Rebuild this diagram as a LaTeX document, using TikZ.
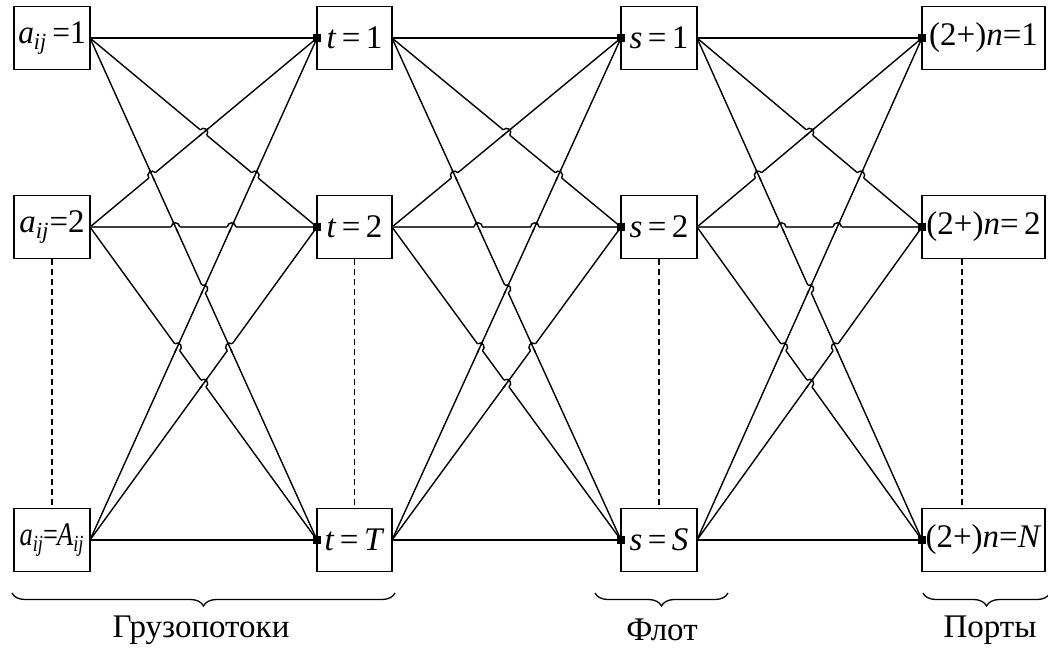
\documentclass[tikz,border=0pt]{standalone}
\usepackage{fontspec}
\setmainfont{Liberation Serif}
\usetikzlibrary{decorations.pathreplacing,calc}
\newcommand\vi[1]{\textit{#1}}
\newcommand\subij{\textsubscript{\textit{ij}}}
\begin{document}
\begin{tikzpicture}[x=0.5pt,y=0.5pt,
  box/.style={draw, line width=0.8pt, rectangle, outer sep=0pt, inner sep=0pt,
     minimum height=31.5pt, font=\fontsize{16.5}{19}\selectfont},
  conn/.style={line width=0.7pt},
  midconn/.style={line width=0.55pt, black!75},
  port/.style={fill, rectangle, inner sep=0pt, minimum size=4pt},
  dsh/.style={line width=0.65pt, dash pattern=on 3pt off 2pt},
  brc/.style={decorate, decoration={brace, mirror, amplitude=6.5pt}, line width=0.65pt},
  lbl/.style={font=\fontsize{16.5}{19}\selectfont}
]
\useasboundingbox (0,0) rectangle (1048,650);
% boxes
\node[box, minimum width=38pt]   (A1) at (52,612) {\scalebox{0.95}[1]{\vi{a}\subij\,=1}};
\node[box, minimum width=38pt]   (A2) at (52,423) {\vi{a}\subij=2};
\node[box, minimum width=38pt]   (A3) at (52,110) {\scalebox{0.8}[1]{\vi{a}\subij\kern-0.5pt=\kern-0.5pt\vi{A}\subij}};
\node[box, minimum width=37.5pt] (T1) at (354.5,612) {\vi{t}\,=\,1};
\node[box, minimum width=37.5pt] (T2) at (354.5,423) {\vi{t}\,=\,2};
\node[box, minimum width=37.5pt] (T3) at (354.5,110) {\vi{t}\,=\,\vi{T}};
\node[box, minimum width=38pt]   (S1) at (659,612) {\vi{s}\,=\,1};
\node[box, minimum width=38pt]   (S2) at (659,423) {\vi{s}\,=\,2};
\node[box, minimum width=38pt]   (S3) at (659,110) {\vi{s}\,=\,\vi{S}};
\node[box, minimum width=61.5pt] (N1) at (983.5,612) {(2+)\vi{n}=1};
\node[box, minimum width=61.5pt] (N2) at (983.5,423) {(2+)\vi{n}=\,2};
\node[box, minimum width=61.5pt] (N3) at (983.5,110) {(2+)\vi{n}=\vi{N}};
% connectors
\foreach \i in {1,2,3}{
  \foreach \j in {1,2,3}{
    \ifnum\i=\j\ifnum\i=2
      \draw[midconn] (A\i.east) -- (T\j.west);
      \draw[midconn] (T\i.east) -- (S\j.west);
      \draw[midconn] (S\i.east) -- (N\j.west);
    \else
      \draw[conn] (A\i.east) -- (T\j.west);
      \draw[conn] (T\i.east) -- (S\j.west);
      \draw[conn] (S\i.east) -- (N\j.west);
    \fi\else
      \draw[conn] (A\i.east) -- (T\j.west);
      \draw[conn] (T\i.east) -- (S\j.west);
      \draw[conn] (S\i.east) -- (N\j.west);
    \fi
  }
}
% hops at crossings
\foreach \xa/\xb in {90/317, 392/621, 697/922}{
  \foreach \i/\j/\k/\l in {1/2/2/1,1/3/2/1,1/3/2/2,1/2/3/1,1/3/3/1,1/3/3/2,2/2/3/1,2/3/3/1,2/3/3/2}{
    \pgfmathsetmacro\yi{{612,423,110}[\i-1]}
    \pgfmathsetmacro\yj{{612,423,110}[\j-1]}
    \pgfmathsetmacro\yk{{612,423,110}[\k-1]}
    \pgfmathsetmacro\yl{{612,423,110}[\l-1]}
    \pgfmathsetmacro\u{(\yk-\yi)/((\yj-\yi)-(\yl-\yk))}
    \pgfmathsetmacro\px{\xa+\u*(\xb-\xa)}
    \pgfmathsetmacro\py{\yi+\u*(\yj-\yi)}
    \pgfmathsetmacro\angA{atan2(\yj-\yi,\xb-\xa)}
    \pgfmathsetmacro\angB{atan2(\yl-\yk,\xb-\xa)}
    \pgfmathsetmacro\hop{abs(\angA)<=abs(\angB) ? \angA : \angB}
    \pgfmathsetmacro\oth{abs(\angA)<=abs(\angB) ? \angB : \angA}
    \draw[white, line width=2pt] (\px,\py) ++(\hop+180:2.1pt) -- ++(\hop:4.2pt);
    \draw[conn] (\px,\py) ++(\oth+180:3pt) -- ++(\oth:6pt);
    \draw[conn] (\px,\py) ++(\hop+180:2.1pt) arc[start angle=\hop+180, end angle=\hop, radius=2.1pt];
  }
}
% port markers
\foreach \c in {T,S,N}{
  \foreach \r in {1,2,3}{
    \node[port] (q\c\r) at (\c\r.west) {};
  }
}
% dashed continuation lines
\draw[dsh] (A2.south) -- (A3.north);
\draw[dsh] (T2.south) -- (T3.north);
\draw[dsh] (S2.south) -- (S3.north);
\draw[dsh] ([xshift=-10.75pt]N2.south) -- ([xshift=-10.75pt]N3.north);
% braces
\coordinate (b1l) at (12,57);  \coordinate (b1r) at (395,57);
\coordinate (b2l) at (595,57); \coordinate (b2r) at (728,57);
\coordinate (b3l) at (923,57); \coordinate (b3r) at (1050,57);
\draw[brc] (b1l) -- (b1r);
\draw[brc] (b2l) -- (b2r);
\draw[brc] (b3l) -- (b3r);
\node[lbl] (L1) at (201,20) {Грузопотоки};
\node[lbl] (L2) at (662,20) {Флот};
\node[lbl] (L3) at (990,20) {Порты};
\end{tikzpicture}
\end{document}
